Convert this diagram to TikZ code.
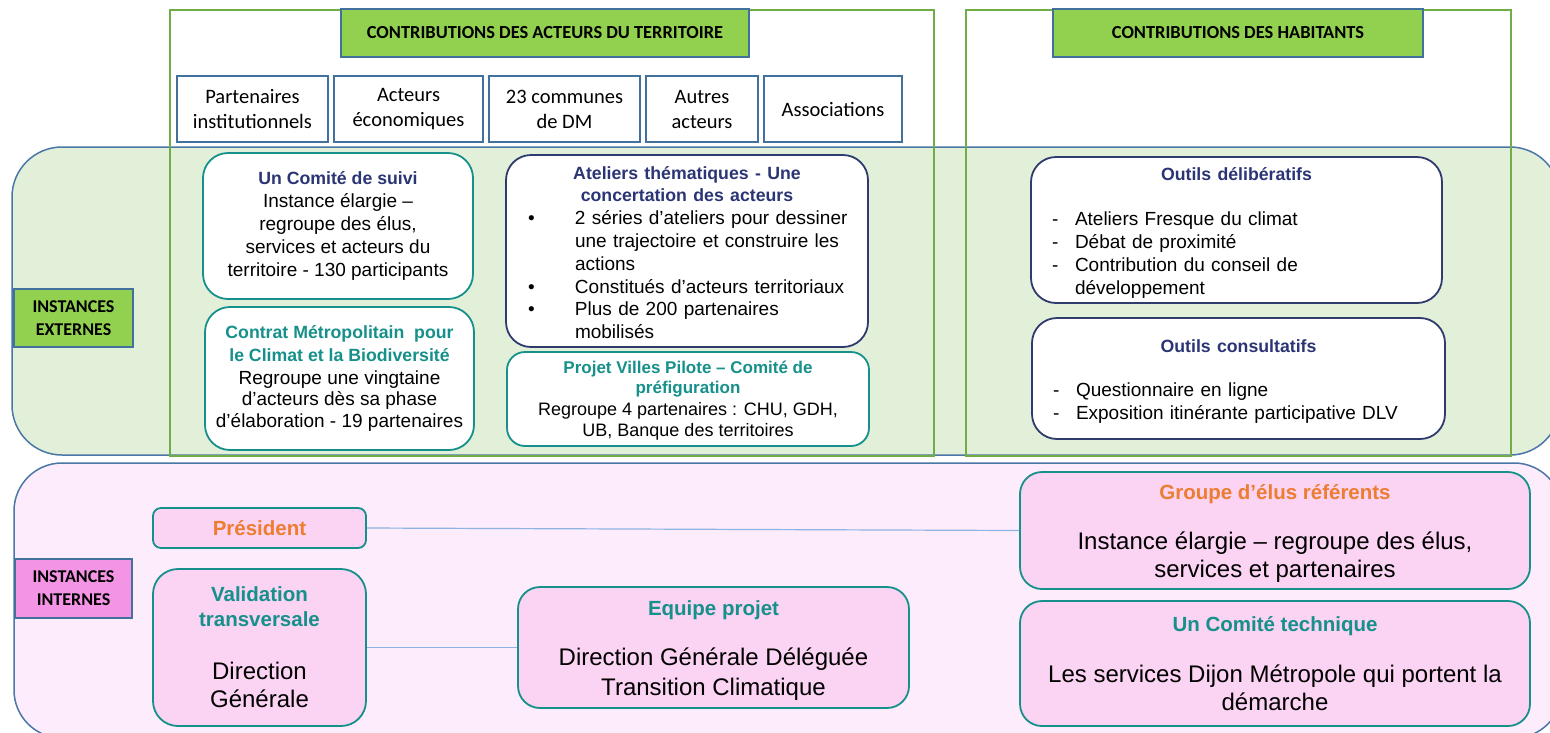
\documentclass[tikz,border=0pt]{standalone}
\usepackage{fontspec}
\setmainfont{Liberation Sans}
\newfontfamily\calib{Carlito}
\definecolor{hgreen}{HTML}{92D050}
\definecolor{hdrblue}{HTML}{41719C}
\definecolor{framegreen}{HTML}{70AD47}
\definecolor{regiongreen}{HTML}{E2F0D9}
\definecolor{regionpink}{HTML}{FDEDFC}
\definecolor{pinkbox}{HTML}{FBD3F3}
\definecolor{tagpink}{HTML}{F394E5}
\definecolor{tealc}{HTML}{16908A}
\definecolor{navyt}{HTML}{2B3575}
\definecolor{navyb}{HTML}{2F3A6E}
\definecolor{orangec}{HTML}{ED7D31}
\definecolor{linkblue}{HTML}{8EB4E3}
\definecolor{regline}{HTML}{4A76A8}
\newcommand\bodyf{\fontsize{19}{22.8}\selectfont}
\newcommand\ttl{\bfseries\fontsize{17.7}{22.8}\selectfont}
\newcommand\bttl{\bfseries\fontsize{20.5}{24}\selectfont}
\newcommand\lift[1]{\rule{0pt}{#1}}
\begin{document}
\begin{tikzpicture}[x=1pt,y=-1pt,
  region/.style={draw=regline, line width=1.5pt},
  gframe/.style={draw=framegreen, line width=2.5pt},
  hdrbox/.style={draw=hdrblue, line width=1.2pt, fill=hgreen, minimum height=48pt, inner sep=0pt, font=\calib\bfseries\fontsize{18.4}{22}\selectfont},
  actbox/.style={draw=hdrblue, line width=2.5pt, fill=white, minimum height=66pt, inner sep=0pt, align=center, font=\calib\fontsize{20.5}{25}\selectfont},
  tagbox/.style={draw=hdrblue, line width=2pt, inner sep=0pt, align=center, font=\calib\bfseries\fontsize{18}{23}\selectfont},
  wbox/.style={fill=white, line width=1.8pt, rounded corners=25pt, inner sep=0pt},
  pbox/.style={fill=pinkbox, draw=tealc, line width=1.8pt, rounded corners=22pt, inner sep=0pt},
  link/.style={draw=linkblue, line width=1.2pt}]
\useasboundingbox (0,0) rectangle (1550,732);
\clip (0,0) rectangle (1550,732);
\fill[white] (0,0) rectangle (1550,732);
% regions
\path[region, fill=regiongreen, rounded corners=50pt] (12,147) rectangle (1560,455);
\path[region, fill=regionpink, rounded corners=48pt] (14,463) rectangle (1562,738);
% frames
\draw[gframe] (170,10) rectangle (934,456);
\draw[gframe] (966,10) rectangle (1511,456);
% headers
\node[hdrbox, minimum width=408pt] (hdrA) at (545,33) {CONTRIBUTIONS DES ACTEURS DU TERRITOIRE};
\node[hdrbox, minimum width=370pt] (hdrB) at (1238,33) {CONTRIBUTIONS DES HABITANTS};
\node[actbox, minimum width=151pt] (pi) at (252.5,109) {Partenaires\\institutionnels};
\node[actbox, minimum width=149pt] (ae) at (408.5,109) {Acteurs\\économiques};
\node[actbox, minimum width=151pt] (cd) at (564.5,109) {23 communes\\de DM};
\node[actbox, minimum width=112pt] (aa) at (702,109) {Autres\\acteurs};
\node[actbox, minimum width=138pt] (as) at (833,109) {Associations};
% tags
\node[tagbox, fill=hgreen, minimum width=119pt, minimum height=58pt] (ie) at (73.5,318) {INSTANCES\\EXTERNES};
\node[tagbox, fill=tagpink, minimum width=117pt, minimum height=59pt] (ii) at (73.5,588.5) {INSTANCES\\INTERNES};
% external boxes
\node[wbox, draw=tealc, minimum width=270pt, minimum height=146pt, align=center, font=\bodyf] (cs) at (338,226)
  {{\ttl\color{navyt}Un Comité de suivi}\\Instance élargie –\\regroupe des élus,\\services et acteurs du\\territoire - 130 participants};
\node[wbox, draw=tealc, minimum width=269pt, minimum height=143pt, align=center, font=\fontsize{19}{21.8}\selectfont] (cm) at (339.5,378.5)
  {{\ttl\color{tealc}Contrat Métropolitain\ \ pour}\\[1pt]{\ttl\color{tealc}le Climat et la Biodiversité}\\[1pt]Regroupe une vingtaine\\d’acteurs dès sa phase\\d’élaboration - 19 partenaires};
\node[wbox, draw=navyb, minimum width=362pt, minimum height=192pt, text width=362pt, align=left, font=\bodyf] (at) at (687,251)
  {\makebox[362pt][c]{\ttl\color{navyt}\lift{16pt}Ateliers thématiques - Une}\\
   \makebox[362pt][c]{\ttl\color{navyt}concertation des acteurs}\\
   \hspace*{22pt}\makebox[47pt][l]{\textbullet}2 séries d’ateliers pour dessiner\\
   \hspace*{69pt}une trajectoire et construire les\\
   \hspace*{69pt}actions\\
   \hspace*{22pt}\makebox[47pt][l]{\textbullet}Constitués d’acteurs territoriaux\\
   \hspace*{22pt}\makebox[47pt][l]{\textbullet}Plus de 200 partenaires\\
   \hspace*{69pt}mobilisés};
\node[wbox, draw=tealc, rounded corners=18pt, minimum width=362pt, minimum height=94pt, align=center, font=\fontsize{18}{21.5}\selectfont] (pv) at (688,399)
  {{\bfseries\fontsize{17}{20}\selectfont\color{tealc}\lift{16pt}Projet Villes Pilote – Comité de}\\[-1.5pt]{\bfseries\fontsize{17}{20}\selectfont\color{tealc}préfiguration}\\Regroupe 4 partenaires : CHU, GDH,\\UB, Banque des territoires};
\node[wbox, draw=navyb, minimum width=411pt, minimum height=146pt, text width=411pt, align=left, font=\bodyf] (od) at (1236.5,230)
  {\makebox[411pt][c]{\ttl\color{navyt}\lift{19pt}Outils délibératifs}\\[22pt]
   \hspace*{21pt}\makebox[23pt][l]{-}Ateliers Fresque du climat\\
   \hspace*{21pt}\makebox[23pt][l]{-}Débat de proximité\\
   \hspace*{21pt}\makebox[23pt][l]{-}Contribution du conseil de\\
   \hspace*{44pt}développement};
\node[wbox, draw=navyb, minimum width=413pt, minimum height=121pt, text width=413pt, align=left, font=\bodyf] (oc) at (1238.5,378.5)
  {\makebox[413pt][c]{\ttl\color{navyt}\lift{19pt}Outils consultatifs}\\[21pt]
   \hspace*{21pt}\makebox[23pt][l]{-}Questionnaire en ligne\\
   \hspace*{21pt}\makebox[23pt][l]{-}Exposition itinérante participative DLV};
% internal boxes
\node[pbox, rounded corners=8pt, minimum width=213pt, minimum height=40pt, font=\bttl, text=orangec] (pres) at (259.5,528) {Président};
\node[pbox, rounded corners=25pt, minimum width=213pt, minimum height=157pt, align=center, font=\fontsize{24}{28}\selectfont] (val) at (259.5,647.5)
  {{\bttl\color{tealc}Validation}\\[-3pt]{\bttl\color{tealc}transversale}\\[25pt]Direction\\Générale};
\node[pbox, minimum width=391pt, minimum height=121pt, align=center, font=\fontsize{24}{28}\selectfont] (eq) at (713.5,647.5)
  {{\bttl\color{tealc}\lift{20pt}Equipe projet}\\[22pt]Direction Générale Déléguée\\[2pt]Transition Climatique};
\node[pbox, minimum width=510pt, minimum height=117pt, align=center, font=\fontsize{24}{28}\selectfont] (grp) at (1275,530.5)
  {{\bttl\color{orangec}\lift{20pt}Groupe d’élus référents}\\[22pt]Instance élargie – regroupe des élus,\\services et partenaires};
\node[pbox, minimum width=510pt, minimum height=125pt, align=center, font=\fontsize{24}{28}\selectfont] (ct) at (1275,663.5)
  {{\bttl\color{tealc}Un Comité technique}\\[23pt]Les services Dijon Métropole qui portent la\\démarche};
% links
\draw[link] (pres.east) -- (grp.west);
\draw[link] (val.east) -- (eq.west);
\end{tikzpicture}
\end{document}
